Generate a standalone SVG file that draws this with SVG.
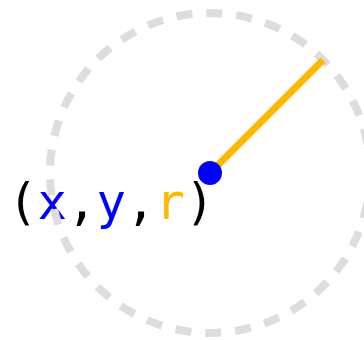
<svg xmlns="http://www.w3.org/2000/svg" width="364" height="340" viewBox="0 0 364 340">
<style>
.lbl{font-family:"DejaVu Sans Mono",monospace;font-size:49px}
</style>
<g id="label">
<text class="lbl" x="8" y="219"><tspan fill="#000">(</tspan><tspan fill="#0000ff">x</tspan><tspan fill="#000">,</tspan><tspan fill="#0000ff">y</tspan><tspan fill="#000">,</tspan><tspan fill="#ffb800">r</tspan><tspan fill="#000">)</tspan></text>
</g>
<g id="circle">
<circle cx="210" cy="173" r="160" fill="none" stroke="#dddddd" stroke-width="8" stroke-dasharray="16 14"/>
</g>
<g id="connectors">
<line x1="210" y1="173" x2="323" y2="60" stroke="#ffb800" stroke-width="7"/>
</g>
<g id="center">
<circle cx="210" cy="173" r="12" fill="#0000ff"/>
</g>
</svg>
